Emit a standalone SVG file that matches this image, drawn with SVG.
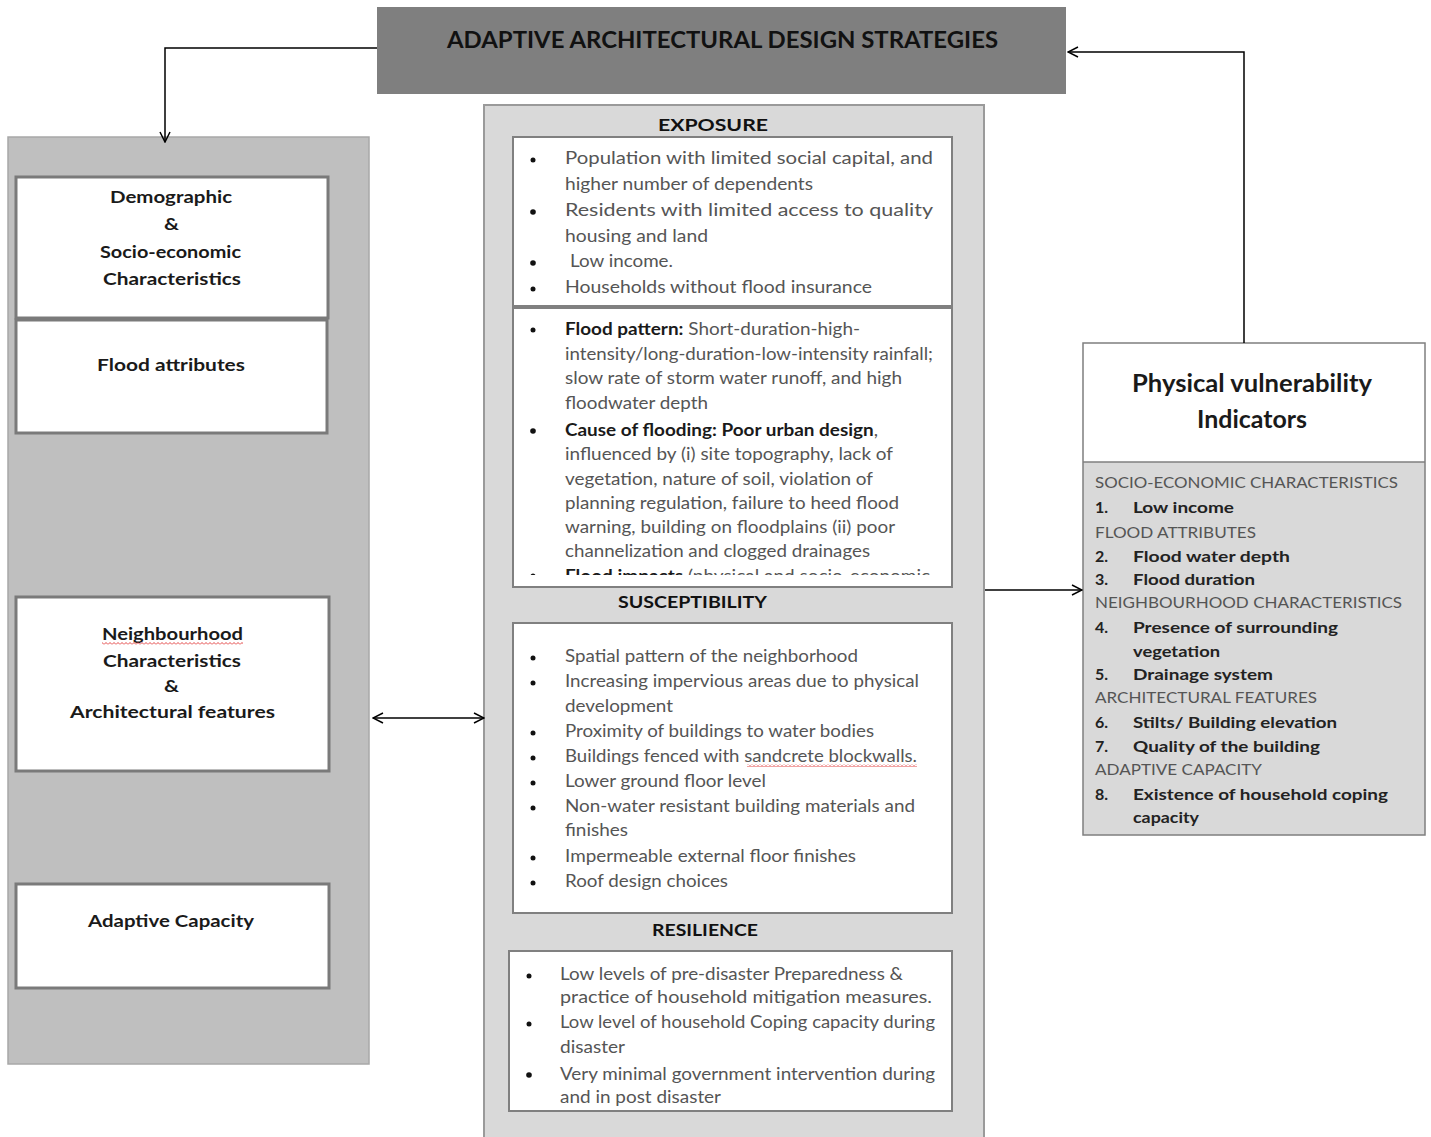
<svg xmlns="http://www.w3.org/2000/svg" width="1431" height="1137" viewBox="0 0 1431 1137">
  <style>
    text { font-family: Lato, "Liberation Sans", sans-serif; }
    .title { font-size: 23px; font-weight: bold; fill: #111; }
    .head { font-size: 17px; font-weight: bold; fill: #111; }
    .ltitle { font-size: 17px; font-weight: bold; fill: #1a1a1a; }
    .body { font-size: 16.5px; fill: #555; }
    .b { font-weight: bold; fill: #1a1a1a; }
    .rhead { font-size: 15px; fill: #555; }
    .ritem { font-size: 16px; font-weight: bold; fill: #222; }
    .pv { font-size: 24px; font-weight: bold; fill: #1a1a1a; }
    .lbox { fill: #fff; stroke: #7a7a7a; stroke-width: 3; }
    .cbox { fill: #fff; stroke: #808080; stroke-width: 2; }
    .conn { fill: none; stroke: #000; stroke-width: 1.5; }
    .dot { fill: #111; }
  </style>
  <defs>
    <marker id="arr" viewBox="0 0 12 12" refX="11" refY="6" markerWidth="12" markerHeight="12" markerUnits="userSpaceOnUse" orient="auto-start-reverse">
      <path d="M1,1 L11,6 L1,11" fill="none" stroke="#000" stroke-width="1.5"/>
    </marker>
    <pattern id="squiggle" width="4" height="3" patternUnits="userSpaceOnUse">
      <path d="M0,2.5 L2,0.5 L4,2.5" fill="none" stroke="#e03030" stroke-width="0.9"/>
    </pattern>
    <clipPath id="floodClip">
      <rect x="513" y="308" width="439" height="267"/>
    </clipPath>
  </defs>

  <!-- Strategy banner -->
  <g id="banner">
    <rect x="377" y="7" width="689" height="87" fill="#7f7f7f"/>
    <text class="title" x="447" y="48" textLength="551" lengthAdjust="spacingAndGlyphs">ADAPTIVE ARCHITECTURAL  DESIGN STRATEGIES</text>
  </g>

  <!-- Left panel: indicator categories -->
  <g id="left-panel">
    <rect x="8" y="137" width="361" height="927" fill="#bfbfbf" stroke="#a8a8a8" stroke-width="1.5"/>
  </g>
  <g id="demographic">
    <rect class="lbox" x="16" y="177" width="312" height="141"/>
    <text class="ltitle" x="110" y="203" textLength="122" lengthAdjust="spacingAndGlyphs">Demographic</text>
    <text class="ltitle" x="164" y="230" textLength="15" lengthAdjust="spacingAndGlyphs">&amp;</text>
    <text class="ltitle" x="100" y="258" textLength="141" lengthAdjust="spacingAndGlyphs">Socio-economic</text>
    <text class="ltitle" x="103" y="285" textLength="138" lengthAdjust="spacingAndGlyphs">Characteristics</text>
  </g>
  <g id="flood-attributes">
    <rect class="lbox" x="16" y="320" width="311" height="113"/>
    <text class="ltitle" x="97" y="371" textLength="148" lengthAdjust="spacingAndGlyphs">Flood attributes</text>
  </g>
  <g id="neighbourhood">
    <rect class="lbox" x="16" y="597" width="313" height="174"/>
    <text class="ltitle" x="102" y="640" textLength="141" lengthAdjust="spacingAndGlyphs">Neighbourhood</text>
    <rect x="102" y="642" width="141" height="3" fill="url(#squiggle)"/>
    <text class="ltitle" x="103" y="667" textLength="138" lengthAdjust="spacingAndGlyphs">Characteristics</text>
    <text class="ltitle" x="164" y="692" textLength="15" lengthAdjust="spacingAndGlyphs">&amp;</text>
    <text class="ltitle" x="70" y="718" textLength="205" lengthAdjust="spacingAndGlyphs">Architectural features</text>
  </g>
  <g id="adaptive-capacity">
    <rect class="lbox" x="16" y="884" width="313" height="104"/>
    <text class="ltitle" x="88" y="927" textLength="166" lengthAdjust="spacingAndGlyphs">Adaptive Capacity</text>
  </g>

  <!-- Centre panel: vulnerability components -->
  <g id="centre-panel">
    <rect x="484" y="105" width="500" height="1040" fill="#d9d9d9" stroke="#9a9a9a" stroke-width="2"/>
  </g>

  <g id="exposure">
    <text class="head" x="658" y="131" textLength="110" lengthAdjust="spacingAndGlyphs">EXPOSURE</text>
    <rect class="cbox" x="513" y="137" width="439" height="169"/>
    <circle class="dot" cx="533" cy="160" r="2.5"/>
    <circle class="dot" cx="533" cy="212" r="2.8"/>
    <circle class="dot" cx="533" cy="263" r="2.8"/>
    <circle class="dot" cx="533" cy="289" r="2.5"/>
    <text class="body" x="565" y="164" textLength="368" lengthAdjust="spacingAndGlyphs">Population with limited social capital, and</text>
    <text class="body" x="565" y="190" textLength="248" lengthAdjust="spacingAndGlyphs">higher number of dependents</text>
    <text class="body" x="565" y="216" textLength="368" lengthAdjust="spacingAndGlyphs">Residents with limited access to quality</text>
    <text class="body" x="565" y="242" textLength="143" lengthAdjust="spacingAndGlyphs">housing and land</text>
    <text class="body" x="570" y="267" textLength="103" lengthAdjust="spacingAndGlyphs">Low income.</text>
    <text class="body" x="565" y="293" textLength="307" lengthAdjust="spacingAndGlyphs">Households without flood insurance</text>
  </g>

  <g id="flood-hazard">
    <rect class="cbox" x="513" y="308" width="439" height="279"/>
    <g clip-path="url(#floodClip)">
      <circle class="dot" cx="533" cy="330" r="2.5"/>
      <circle class="dot" cx="533" cy="431" r="2.8"/>
      <circle class="dot" cx="533" cy="576" r="2.5"/>
      <text class="body" x="565" y="335" textLength="295" lengthAdjust="spacingAndGlyphs"><tspan class="b">Flood pattern:</tspan>  Short-duration-high-</text>
      <text class="body" x="565" y="360" textLength="368" lengthAdjust="spacingAndGlyphs">intensity/long-duration-low-intensity rainfall;</text>
      <text class="body" x="565" y="384" textLength="337" lengthAdjust="spacingAndGlyphs">slow rate of storm water runoff, and high</text>
      <text class="body" x="565" y="409" textLength="143" lengthAdjust="spacingAndGlyphs">floodwater depth</text>
      <text class="body" x="565" y="436" textLength="313" lengthAdjust="spacingAndGlyphs"><tspan class="b">Cause of flooding: Poor urban design</tspan>,</text>
      <text class="body" x="565" y="460" textLength="328" lengthAdjust="spacingAndGlyphs">influenced by (i) site topography, lack of</text>
      <text class="body" x="565" y="485" textLength="308" lengthAdjust="spacingAndGlyphs">vegetation, nature of soil, violation of</text>
      <text class="body" x="565" y="509" textLength="334" lengthAdjust="spacingAndGlyphs">planning regulation, failure to heed flood</text>
      <text class="body" x="565" y="533" textLength="330" lengthAdjust="spacingAndGlyphs">warning, building on floodplains (ii) poor</text>
      <text class="body" x="565" y="557" textLength="305" lengthAdjust="spacingAndGlyphs">channelization and clogged drainages</text>
      <text class="body" x="565" y="582" textLength="365" lengthAdjust="spacingAndGlyphs"><tspan class="b">Flood impacts</tspan> (physical and socio-economic</text>
    </g>
  </g>

  <g id="susceptibility">
    <text class="head" x="618" y="608" textLength="149" lengthAdjust="spacingAndGlyphs">SUSCEPTIBILITY</text>
    <rect class="cbox" x="513" y="623" width="439" height="290"/>
    <circle class="dot" cx="533" cy="658" r="2.5"/>
    <circle class="dot" cx="533" cy="683" r="2.5"/>
    <circle class="dot" cx="533" cy="733" r="2.5"/>
    <circle class="dot" cx="533" cy="758" r="2.5"/>
    <circle class="dot" cx="533" cy="783" r="2.5"/>
    <circle class="dot" cx="533" cy="808" r="2.5"/>
    <circle class="dot" cx="533" cy="858" r="2.5"/>
    <circle class="dot" cx="533" cy="883" r="2.5"/>
    <text class="body" x="565" y="662" textLength="293" lengthAdjust="spacingAndGlyphs">Spatial pattern of the neighborhood</text>
    <text class="body" x="565" y="687" textLength="354" lengthAdjust="spacingAndGlyphs">Increasing impervious areas due to physical</text>
    <text class="body" x="565" y="712" textLength="108" lengthAdjust="spacingAndGlyphs">development</text>
    <text class="body" x="565" y="737" textLength="309" lengthAdjust="spacingAndGlyphs">Proximity of buildings to water bodies</text>
    <text class="body" x="565" y="762" textLength="352" lengthAdjust="spacingAndGlyphs">Buildings fenced with sandcrete blockwalls.</text>
    <rect x="747" y="764" width="170" height="3" fill="url(#squiggle)"/>
    <text class="body" x="565" y="787" textLength="201" lengthAdjust="spacingAndGlyphs">Lower ground floor level</text>
    <text class="body" x="565" y="812" textLength="350" lengthAdjust="spacingAndGlyphs">Non-water resistant building materials and</text>
    <text class="body" x="565" y="836" textLength="63" lengthAdjust="spacingAndGlyphs">finishes</text>
    <text class="body" x="565" y="862" textLength="291" lengthAdjust="spacingAndGlyphs">Impermeable external floor finishes</text>
    <text class="body" x="565" y="887" textLength="163" lengthAdjust="spacingAndGlyphs">Roof design choices</text>
  </g>

  <g id="resilience">
    <text class="head" x="652" y="936" textLength="106" lengthAdjust="spacingAndGlyphs">RESILIENCE</text>
    <rect class="cbox" x="509" y="951" width="443" height="160"/>
    <circle class="dot" cx="529" cy="976" r="2.5"/>
    <circle class="dot" cx="529" cy="1024" r="2.5"/>
    <circle class="dot" cx="529" cy="1075" r="2.8"/>
    <text class="body" x="560" y="980" textLength="343" lengthAdjust="spacingAndGlyphs">Low levels of pre-disaster Preparedness &amp;</text>
    <text class="body" x="560" y="1003" textLength="372" lengthAdjust="spacingAndGlyphs">practice of household mitigation measures.</text>
    <text class="body" x="560" y="1028" textLength="375" lengthAdjust="spacingAndGlyphs">Low level of household Coping capacity during</text>
    <text class="body" x="560" y="1053" textLength="65" lengthAdjust="spacingAndGlyphs">disaster</text>
    <text class="body" x="560" y="1080" textLength="375" lengthAdjust="spacingAndGlyphs">Very minimal government intervention during</text>
    <text class="body" x="560" y="1103" textLength="161" lengthAdjust="spacingAndGlyphs">and in post disaster</text>
  </g>

  <!-- Right box: physical vulnerability indicators -->
  <g id="indicators">
    <rect x="1083" y="343" width="342" height="119" fill="#fff"/>
    <rect x="1083" y="462" width="342" height="373" fill="#d9d9d9"/>
    <rect x="1083" y="343" width="342" height="492" fill="none" stroke="#7f7f7f" stroke-width="1.5"/>
    <line x1="1083" y1="462" x2="1425" y2="462" stroke="#7f7f7f" stroke-width="1.5"/>
    <text class="pv" x="1132" y="392" textLength="240" lengthAdjust="spacingAndGlyphs">Physical vulnerability</text>
    <text class="pv" x="1197" y="428" textLength="110" lengthAdjust="spacingAndGlyphs">Indicators</text>

    <text class="rhead" x="1095" y="488" textLength="303" lengthAdjust="spacingAndGlyphs">SOCIO-ECONOMIC CHARACTERISTICS</text>
    <text class="ritem" x="1095" y="513">1.</text>
    <text class="ritem" x="1133" y="513" textLength="101" lengthAdjust="spacingAndGlyphs">Low income</text>
    <text class="rhead" x="1095" y="538" textLength="161" lengthAdjust="spacingAndGlyphs">FLOOD ATTRIBUTES</text>
    <text class="ritem" x="1095" y="562">2.</text>
    <text class="ritem" x="1133" y="562" textLength="157" lengthAdjust="spacingAndGlyphs">Flood water depth</text>
    <text class="ritem" x="1095" y="585">3.</text>
    <text class="ritem" x="1133" y="585" textLength="122" lengthAdjust="spacingAndGlyphs">Flood duration</text>
    <text class="rhead" x="1095" y="608" textLength="307" lengthAdjust="spacingAndGlyphs">NEIGHBOURHOOD CHARACTERISTICS</text>
    <text class="ritem" x="1095" y="633">4.</text>
    <text class="ritem" x="1133" y="633" textLength="205" lengthAdjust="spacingAndGlyphs">Presence of surrounding</text>
    <text class="ritem" x="1133" y="657" textLength="87" lengthAdjust="spacingAndGlyphs">vegetation</text>
    <text class="ritem" x="1095" y="680">5.</text>
    <text class="ritem" x="1133" y="680" textLength="140" lengthAdjust="spacingAndGlyphs">Drainage system</text>
    <text class="rhead" x="1095" y="703" textLength="222" lengthAdjust="spacingAndGlyphs">ARCHITECTURAL FEATURES</text>
    <text class="ritem" x="1095" y="728">6.</text>
    <text class="ritem" x="1133" y="728" textLength="204" lengthAdjust="spacingAndGlyphs">Stilts/ Building elevation</text>
    <text class="ritem" x="1095" y="752">7.</text>
    <text class="ritem" x="1133" y="752" textLength="187" lengthAdjust="spacingAndGlyphs">Quality of the building</text>
    <text class="rhead" x="1095" y="775" textLength="167" lengthAdjust="spacingAndGlyphs">ADAPTIVE CAPACITY</text>
    <text class="ritem" x="1095" y="800">8.</text>
    <text class="ritem" x="1133" y="800" textLength="255" lengthAdjust="spacingAndGlyphs">Existence of household coping</text>
    <text class="ritem" x="1133" y="823" textLength="66" lengthAdjust="spacingAndGlyphs">capacity</text>
  </g>

  <!-- Connectors -->
  <g id="connectors">
    <path class="conn" d="M377,48 H165 V142" marker-end="url(#arr)"/>
    <path class="conn" d="M1244,343 V52 H1068" marker-end="url(#arr)"/>
    <path class="conn" d="M373,718 H484" marker-start="url(#arr)" marker-end="url(#arr)"/>
    <path class="conn" d="M985,590 H1082" marker-end="url(#arr)"/>
  </g>
</svg>
